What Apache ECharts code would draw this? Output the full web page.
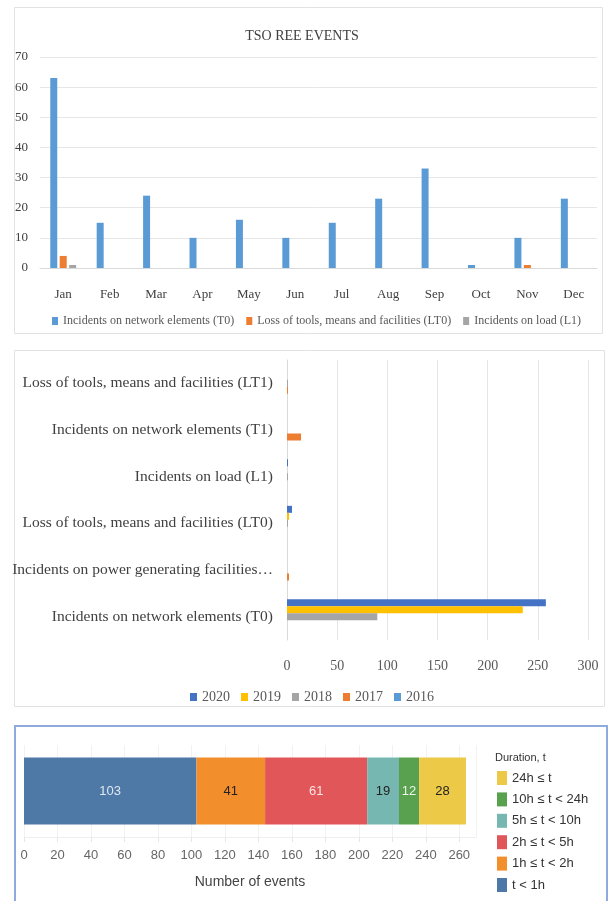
<!DOCTYPE html>
<html>
<head>
<meta charset="utf-8">
<script src="https://cdn.jsdelivr.net/npm/echarts@6/dist/echarts.min.js"></script>
<style>
  html, body { margin: 0; padding: 0; background: #fff; }
  #main { width: 610px; height: 901px; }
</style>
</head>
<body>
<div id="main"></div>
<script>
// panel 1 - monthly events
const months = ['Jan', 'Feb', 'Mar', 'Apr', 'May', 'Jun', 'Jul', 'Aug', 'Sep', 'Oct', 'Nov', 'Dec'];
const t0Monthly = [63, 15, 24, 10, 16, 10, 15, 23, 33, 1, 10, 23];
const lt0Monthly = [4, 0, 0, 0, 0, 0, 0, 0, 0, 0, 1, 0];
const l1Monthly = [1, 0, 0, 0, 0, 0, 0, 0, 0, 0, 0, 0];
const monthlyNames = ['Incidents on network elements (T0)', 'Loss of tools, means and facilities (LT0)', 'Incidents on load (L1)'];

// panel 2 - events per type and year (bottom to top)
const eventTypes = [
  'Incidents on network elements (T0)',
  'Incidents on power generating facilities…',
  'Loss of tools, means and facilities (LT0)',
  'Incidents on load (L1)',
  'Incidents on network elements (T1)',
  'Loss of tools, means and facilities (LT1)'
];
const years = ['2020', '2019', '2018', '2017', '2016'];
const y2020 = [258, 0, 5, 1, 0, 0];
const y2019 = [235, 0, 2, 0, 0, 0];
const y2018 = [90, 0, 1, 1, 0, 1];
const y2017 = [0, 2, 0, 0, 14, 1];
const y2016 = [0, 0, 0, 0, 0, 0];

// panel 3 - duration
const durationNames = ['t < 1h', '1h ≤ t < 2h', '2h ≤ t < 5h', '5h ≤ t < 10h', '10h ≤ t < 24h', '24h ≤ t'];
const durationValues = [103, 41, 61, 19, 12, 28];

const serif = 'Liberation Serif';
const sans = 'Liberation Sans';

const chart = echarts.init(document.getElementById('main'));

const yearColors = ['#4472C4', '#FFC000', '#A5A5A5', '#ED7D31', '#5B9BD5'];
const yearData = [y2020, y2019, y2018, y2017, y2016];
const durColors = ['#4E79A7', '#F28E2B', '#E15759', '#76B7B2', '#59A14F', '#EDC948'];
const durLabelColors = ['#dfe8f2', '#222', '#fbe3e3', '#222', '#eaf5e8', '#222'];

const series = [];
const monthlyColors = ['#5B9BD5', '#ED7D31', '#A5A5A5'];
[t0Monthly, lt0Monthly, l1Monthly].forEach(function (d, i) {
  series.push({
    name: monthlyNames[i],
    type: 'bar',
    xAxisIndex: 0,
    yAxisIndex: 0,
    data: d,
    barWidth: 7,
    barGap: '35%',
    itemStyle: { color: monthlyColors[i] }
  });
});
yearData.forEach(function (d, i) {
  series.push({
    name: years[i],
    type: 'bar',
    xAxisIndex: 1,
    yAxisIndex: 1,
    data: d,
    barWidth: 7,
    barGap: 0,
    itemStyle: { color: yearColors[i] }
  });
});
durationValues.forEach(function (v, i) {
  series.push({
    name: durationNames[i],
    type: 'bar',
    stack: 'dur',
    xAxisIndex: 2,
    yAxisIndex: 2,
    data: [v],
    barWidth: 67,
    itemStyle: { color: durColors[i] },
    label: {
      show: true,
      position: 'inside',
      color: durLabelColors[i],
      fontFamily: sans,
      fontSize: 13
    }
  });
});

var option = {
  animation: false,
  backgroundColor: '#fff',
  title: {
    text: 'TSO REE EVENTS',
    left: 297,
    top: 24,
    textAlign: 'center',
    textStyle: { fontFamily: serif, fontSize: 14, fontWeight: 'normal', color: '#404040' }
  },
  graphic: [
    { type: 'rect', shape: { x: 14.5, y: 7.5, width: 588, height: 326 }, style: { fill: 'none', stroke: '#e2e2e2', lineWidth: 1 }, z: -1 },
    { type: 'rect', shape: { x: 14.5, y: 350.5, width: 590, height: 356 }, style: { fill: 'none', stroke: '#e2e2e2', lineWidth: 1 }, z: -1 },
    { type: 'rect', shape: { x: 15, y: 726, width: 592, height: 180 }, style: { fill: 'none', stroke: '#8faadc', lineWidth: 2 }, z: -1 },
    { type: 'text', left: 495, top: 752, style: { text: 'Duration, t', fontFamily: sans, fontSize: 11, fill: '#333' } }
  ],
  legend: [
    {
      data: monthlyNames,
      left: 52,
      top: 315,
      padding: 0,
      itemWidth: 6,
      itemHeight: 8,
      itemGap: 12,
      icon: 'rect',
      textStyle: { fontFamily: serif, fontSize: 12, color: '#595959' }
    },
    {
      data: years,
      left: 190,
      top: 690,
      padding: 0,
      itemWidth: 7,
      itemHeight: 8,
      itemGap: 11,
      icon: 'rect',
      textStyle: { fontFamily: serif, fontSize: 14, color: '#595959' }
    },
    {
      data: durationNames.slice().reverse(),
      orient: 'vertical',
      left: 497,
      top: 771,
      padding: 0,
      itemWidth: 10,
      itemHeight: 14,
      itemGap: 7.4,
      icon: 'rect',
      textStyle: { fontFamily: sans, fontSize: 13, color: '#333' }
    }
  ],
  grid: [
    { left: 40, right: 13, top: 57, bottom: 633 },
    { left: 287, right: 22, top: 360, bottom: 261 },
    { left: 24, right: 134, top: 745, bottom: 64 }
  ],
  xAxis: [
    {
      gridIndex: 0,
      type: 'category',
      data: months,
      axisLine: { lineStyle: { color: '#d9d9d9' } },
      axisTick: { show: false },
      axisLabel: { fontFamily: serif, fontSize: 13, color: '#404040', margin: 20 }
    },
    {
      gridIndex: 1,
      type: 'value',
      min: 0,
      max: 300,
      interval: 50,
      axisLine: { show: false },
      axisTick: { show: false },
      splitLine: { lineStyle: { color: '#e6e6e6' } },
      axisLabel: { fontFamily: serif, fontSize: 14, color: '#595959', margin: 19 }
    },
    {
      gridIndex: 2,
      type: 'value',
      min: 0,
      max: 270,
      interval: 20,
      name: 'Number of events',
      nameLocation: 'middle',
      nameGap: 38,
      nameTextStyle: { fontFamily: sans, fontSize: 14, color: '#444' },
      axisLine: { show: true, lineStyle: { color: '#eeeeee' } },
      axisTick: { show: true, lineStyle: { color: '#e6e6e6' } },
      splitLine: { lineStyle: { color: '#f2f2f2' } },
      axisLabel: { fontFamily: sans, fontSize: 13, color: '#666', margin: 12 }
    }
  ],
  yAxis: [
    {
      gridIndex: 0,
      type: 'value',
      min: 0,
      max: 70,
      interval: 10,
      axisLine: { show: false },
      axisTick: { show: false },
      splitLine: { lineStyle: { color: '#e6e6e6' } },
      axisLabel: { fontFamily: serif, fontSize: 13, color: '#404040', margin: 12 }
    },
    {
      gridIndex: 1,
      type: 'category',
      data: eventTypes,
      axisLine: { lineStyle: { color: '#d9d9d9' } },
      axisTick: { show: false },
      axisLabel: { fontFamily: serif, fontSize: 15.5, color: '#404040', margin: 14 }
    },
    {
      gridIndex: 2,
      type: 'category',
      data: [''],
      show: false
    }
  ],
  series: series
};

chart.setOption(option);
</script>
</body>
</html>
